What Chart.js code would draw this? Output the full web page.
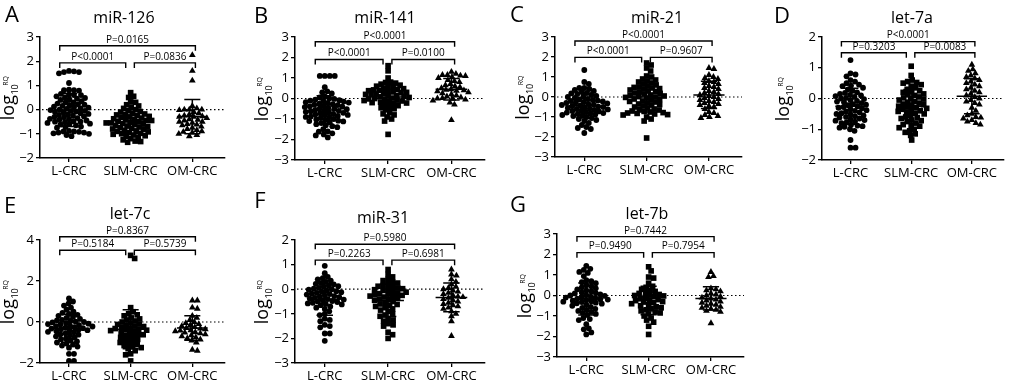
<!DOCTYPE html>
<html>
<head>
<meta charset="utf-8">
<script src="https://cdn.jsdelivr.net/npm/chart.js@4.4.1/dist/chart.umd.min.js"></script>
<style>
  body { margin: 0; background: #fff; }
  #wrap { position: relative; width: 1010px; height: 382px; overflow: hidden; background: #fff; }
  canvas { position: absolute; }
</style>
</head>
<body>
<div id="wrap"></div>
<script>
const categories = ['L-CRC', 'SLM-CRC', 'OM-CRC'];
const titles = ['miR-126', 'miR-141', 'miR-21', 'let-7a', 'let-7c', 'miR-31', 'let-7b'];
const letters = ['A', 'B', 'C', 'D', 'E', 'F', 'G'];
const yMin = [-2, -3, -3, -2, -2, -3, -3];
const yMax = [3, 3, 3, 2, 4, 2, 3];
const yStep = [1, 1, 1, 1, 2, 1, 1];
const pOuter = ['P=0.0165', 'P<0.0001', 'P<0.0001', 'P<0.0001', 'P=0.8367', 'P=0.5980', 'P=0.7442'];
const pLeft = ['P<0.0001', 'P<0.0001', 'P<0.0001', 'P=0.3203', 'P=0.5184', 'P=0.2263', 'P=0.9490'];
const pRight = ['P=0.0836', 'P=0.0100', 'P=0.9607', 'P=0.0083', 'P=0.5739', 'P=0.6981', 'P=0.7954'];
const outerY = [2.64, 2.77, 2.8, 1.85, 4.16, 1.83, 2.87];
const innerY = [1.93, 1.9, 1.98, 1.49, 3.5, 1.18, 2.09];

// miR-126
const miR126_L = [1.6, 1.55, 1.55, 1.5, 1.58, 1.1, 0.82, 0.8, 0.8, 0.78, 0.65, 0.62, 0.6, 0.6, 0.55, 0.5, 0.48, 0.45, 0.42, 0.4, 0.35, 0.3, 0.3, 0.25, 0.22, 0.2, 0.18, 0.15, 0.12, 0.1, 0.08, 0.05, 0.03, 0.0, -0.02, -0.05, -0.05, -0.08, -0.1, -0.12, -0.15, -0.18, -0.2, -0.22, -0.25, -0.28, -0.3, -0.32, -0.35, -0.38, -0.4, -0.42, -0.45, -0.48, -0.5, -0.5, -0.52, -0.55, -0.58, -0.6, -0.62, -0.65, -0.7, -0.72, -0.75, -0.88, -0.9, -0.92, -0.95, -0.95, -1.0, -1.05, -1.1, -0.98, -0.9];
const miR126_SLM = [0.7, 0.55, 0.5, 0.32, 0.3, 0.2, 0.15, 0.1, 0.05, 0.0, -0.05, -0.08, -0.1, -0.15, -0.18, -0.2, -0.22, -0.25, -0.28, -0.3, -0.32, -0.35, -0.38, -0.4, -0.42, -0.45, -0.45, -0.48, -0.5, -0.52, -0.55, -0.55, -0.58, -0.6, -0.62, -0.65, -0.68, -0.7, -0.72, -0.75, -0.78, -0.8, -0.82, -0.85, -0.88, -0.9, -0.92, -0.95, -0.98, -1.0, -1.02, -1.05, -1.08, -1.1, -1.15, -1.2, -1.25, -1.3, -1.32, -1.35];
const miR126_OM = [2.25, 1.6, 1.2, 0.15, 0.05, 0.0, 0.0, -0.02, 0.0, -0.1, -0.15, -0.2, -0.25, -0.28, -0.3, -0.3, -0.35, -0.4, -0.42, -0.45, -0.5, -0.5, -0.55, -0.6, -0.62, -0.65, -0.7, -0.75, -0.8, -0.85, -0.9, -0.92, -0.95, -1.0, -1.05, -1.1];

// miR-141
const miR141_L = [1.1, 1.1, 1.1, 1.1, 0.55, 0.35, 0.3, 0.25, 0.1, 0.05, 0.0, -0.02, -0.05, -0.08, -0.1, -0.12, -0.15, -0.18, -0.2, -0.22, -0.25, -0.28, -0.3, -0.32, -0.35, -0.38, -0.4, -0.42, -0.45, -0.48, -0.5, -0.52, -0.55, -0.58, -0.6, -0.62, -0.65, -0.68, -0.7, -0.72, -0.75, -0.78, -0.8, -0.82, -0.85, -0.88, -0.9, -0.92, -0.95, -1.0, -1.02, -1.05, -1.08, -1.1, -1.12, -1.15, -1.2, -1.25, -1.3, -1.35, -1.4, -1.5, -1.6, -1.62, -1.7, -1.75, -1.8, -1.9];
const miR141_SLM = [1.6, 1.35, 1.0, 0.8, 0.78, 0.75, 0.7, 0.65, 0.6, 0.58, 0.55, 0.5, 0.48, 0.45, 0.42, 0.4, 0.38, 0.35, 0.32, 0.3, 0.28, 0.25, 0.22, 0.2, 0.18, 0.15, 0.12, 0.1, 0.08, 0.05, 0.02, 0.0, -0.02, -0.05, -0.08, -0.1, -0.12, -0.15, -0.18, -0.2, -0.22, -0.25, -0.3, -0.35, -0.4, -0.45, -0.5, -0.55, -0.7, -0.75, -0.8, -0.9, -1.0, -1.1, -1.75];
const miR141_OM = [1.3, 1.2, 1.15, 1.15, 1.12, 1.1, 1.05, 1.0, 0.9, 0.85, 0.8, 0.7, 0.65, 0.6, 0.55, 0.5, 0.45, 0.42, 0.4, 0.38, 0.35, 0.3, 0.25, 0.2, 0.15, 0.1, 0.05, 0.02, 0.0, -0.02, -0.05, -0.1, -0.2, -0.3, -1.05];

// miR-21
const miR21_L = [1.35, 0.75, 0.65, 0.45, 0.45, 0.4, 0.35, 0.3, 0.25, 0.2, 0.18, 0.15, 0.1, 0.05, 0.02, 0.0, -0.05, -0.1, -0.12, -0.15, -0.18, -0.2, -0.22, -0.25, -0.28, -0.3, -0.32, -0.35, -0.38, -0.4, -0.42, -0.45, -0.48, -0.5, -0.52, -0.55, -0.58, -0.6, -0.62, -0.65, -0.68, -0.7, -0.72, -0.75, -0.78, -0.8, -0.82, -0.85, -0.88, -0.9, -0.92, -0.95, -1.0, -1.05, -1.1, -1.15, -1.2, -1.3, -1.4, -1.5, -1.55, -1.6, -1.8];
const miR21_SLM = [1.7, 1.6, 1.45, 1.3, 1.05, 1.0, 0.9, 0.85, 0.8, 0.75, 0.7, 0.65, 0.6, 0.55, 0.5, 0.48, 0.45, 0.42, 0.4, 0.35, 0.3, 0.28, 0.25, 0.2, 0.18, 0.15, 0.1, 0.08, 0.05, 0.02, 0.0, -0.02, -0.05, -0.1, -0.12, -0.15, -0.2, -0.22, -0.25, -0.3, -0.35, -0.38, -0.4, -0.45, -0.5, -0.55, -0.6, -0.62, -0.65, -0.7, -0.72, -0.75, -0.78, -0.8, -0.82, -0.85, -0.88, -0.9, -1.0, -1.1, -1.2, -2.05];
const miR21_OM = [1.45, 1.4, 1.1, 1.0, 0.95, 0.9, 0.8, 0.75, 0.7, 0.65, 0.55, 0.5, 0.45, 0.4, 0.3, 0.25, 0.2, 0.15, 0.1, 0.05, 0.0, -0.05, -0.1, -0.15, -0.2, -0.25, -0.3, -0.35, -0.4, -0.45, -0.5, -0.6, -0.75, -0.8, -0.9, -0.95, -1.0, -1.05];

// let-7a
const let7a_L = [1.25, 0.82, 0.78, 0.72, 0.6, 0.55, 0.5, 0.45, 0.42, 0.4, 0.35, 0.3, 0.25, 0.2, 0.18, 0.15, 0.12, 0.1, 0.08, 0.05, 0.02, 0.0, -0.02, -0.05, -0.08, -0.1, -0.12, -0.15, -0.18, -0.2, -0.22, -0.25, -0.28, -0.3, -0.32, -0.35, -0.38, -0.4, -0.42, -0.45, -0.48, -0.5, -0.52, -0.55, -0.58, -0.6, -0.62, -0.65, -0.68, -0.7, -0.72, -0.75, -0.78, -0.8, -0.85, -0.88, -0.9, -0.92, -0.95, -1.0, -1.05, -1.35, -1.6, -1.6];
const let7a_SLM = [1.05, 0.75, 0.6, 0.55, 0.52, 0.5, 0.45, 0.4, 0.35, 0.3, 0.25, 0.22, 0.2, 0.15, 0.12, 0.1, 0.05, 0.02, 0.0, -0.02, -0.05, -0.1, -0.12, -0.15, -0.18, -0.2, -0.22, -0.25, -0.28, -0.3, -0.32, -0.35, -0.38, -0.4, -0.42, -0.45, -0.48, -0.5, -0.55, -0.6, -0.62, -0.65, -0.7, -0.72, -0.75, -0.8, -0.85, -0.88, -0.9, -0.95, -1.0, -1.05, -1.1, -1.15, -1.2, -1.35];
const let7a_OM = [1.1, 0.95, 0.9, 0.82, 0.75, 0.7, 0.65, 0.6, 0.55, 0.5, 0.45, 0.4, 0.35, 0.3, 0.25, 0.2, 0.15, 0.1, 0.05, 0.0, -0.05, -0.1, -0.15, -0.2, -0.3, -0.4, -0.5, -0.55, -0.6, -0.62, -0.65, -0.7, -0.75, -0.8, -0.85];

// let-7c
const let7c_L = [1.15, 1.0, 0.9, 0.8, 0.7, 0.6, 0.5, 0.45, 0.4, 0.35, 0.3, 0.25, 0.2, 0.15, 0.1, 0.08, 0.05, 0.02, 0.0, -0.02, -0.05, -0.08, -0.1, -0.12, -0.15, -0.18, -0.2, -0.22, -0.25, -0.28, -0.3, -0.32, -0.35, -0.38, -0.4, -0.42, -0.45, -0.48, -0.5, -0.55, -0.6, -0.62, -0.65, -0.7, -0.75, -0.8, -0.85, -0.9, -0.95, -1.0, -1.05, -1.1, -1.15, -1.2, -1.25, -1.55, -1.55, -1.9, -1.9];
const let7c_SLM = [3.25, 3.1, 0.7, 0.5, 0.4, 0.35, 0.3, 0.2, 0.15, 0.1, 0.05, 0.0, -0.05, -0.1, -0.12, -0.15, -0.2, -0.22, -0.25, -0.3, -0.32, -0.35, -0.38, -0.4, -0.42, -0.45, -0.5, -0.55, -0.6, -0.62, -0.65, -0.7, -0.75, -0.8, -0.85, -0.9, -0.95, -1.0, -1.05, -1.1, -1.15, -1.2, -1.25, -1.3, -1.4, -1.55, -1.6, -1.9];
const let7c_OM = [1.05, 1.05, 0.7, 0.65, 0.3, 0.2, 0.1, 0.0, -0.05, -0.1, -0.15, -0.2, -0.25, -0.3, -0.32, -0.35, -0.4, -0.42, -0.45, -0.5, -0.52, -0.55, -0.6, -0.65, -0.7, -0.75, -0.8, -0.85, -0.9, -1.0, -1.35, -1.4];

// miR-31
const miR31_L = [0.95, 0.65, 0.5, 0.45, 0.4, 0.35, 0.3, 0.25, 0.22, 0.2, 0.15, 0.12, 0.1, 0.05, 0.02, 0.0, -0.02, -0.05, -0.08, -0.1, -0.12, -0.15, -0.18, -0.2, -0.22, -0.25, -0.28, -0.3, -0.32, -0.35, -0.38, -0.4, -0.42, -0.45, -0.48, -0.5, -0.52, -0.55, -0.58, -0.6, -0.62, -0.65, -0.7, -0.75, -0.8, -0.9, -1.0, -1.05, -1.2, -1.25, -1.3, -1.45, -1.5, -1.55, -1.8, -1.8, -2.1];
const miR31_SLM = [0.8, 0.6, 0.5, 0.4, 0.35, 0.3, 0.25, 0.2, 0.15, 0.12, 0.1, 0.05, 0.02, 0.0, -0.02, -0.05, -0.1, -0.12, -0.15, -0.18, -0.2, -0.22, -0.25, -0.28, -0.3, -0.32, -0.35, -0.4, -0.42, -0.45, -0.5, -0.55, -0.6, -0.62, -0.65, -0.7, -0.75, -0.8, -0.85, -0.9, -1.0, -1.05, -1.1, -1.2, -1.25, -1.3, -1.4, -1.45, -1.5, -1.75, -1.85, -2.0];
const miR31_OM = [0.8, 0.6, 0.55, 0.4, 0.3, 0.2, 0.1, 0.05, 0.0, -0.05, -0.1, -0.15, -0.2, -0.25, -0.3, -0.32, -0.35, -0.4, -0.45, -0.5, -0.55, -0.6, -0.65, -0.7, -0.75, -0.8, -0.9, -1.0, -1.1, -1.3, -1.9];

// let-7b
const let7b_L = [1.45, 1.3, 1.25, 1.15, 1.1, 0.95, 0.75, 0.7, 0.65, 0.6, 0.5, 0.45, 0.4, 0.35, 0.3, 0.25, 0.2, 0.15, 0.12, 0.1, 0.05, 0.02, 0.0, -0.02, -0.05, -0.08, -0.1, -0.12, -0.15, -0.18, -0.2, -0.22, -0.25, -0.28, -0.3, -0.32, -0.35, -0.38, -0.4, -0.45, -0.5, -0.55, -0.6, -0.65, -0.7, -0.75, -0.8, -0.85, -0.9, -0.95, -1.1, -1.15, -1.2, -1.4, -1.6, -1.65, -1.8, -1.9];
const let7b_SLM = [1.4, 1.2, 0.9, 0.85, 0.6, 0.45, 0.4, 0.3, 0.25, 0.2, 0.15, 0.1, 0.05, 0.02, 0.0, -0.02, -0.05, -0.1, -0.15, -0.2, -0.22, -0.25, -0.3, -0.32, -0.35, -0.4, -0.45, -0.5, -0.55, -0.6, -0.65, -0.7, -0.75, -0.8, -0.85, -0.9, -1.0, -1.1, -1.2, -1.3, -1.5, -1.9];
const let7b_OM = [1.15, 0.95, 0.9, 0.35, 0.3, 0.25, 0.2, 0.1, 0.05, 0.0, -0.05, -0.1, -0.15, -0.2, -0.25, -0.3, -0.35, -0.4, -0.45, -0.5, -0.55, -0.6, -0.65, -0.7, -0.75, -0.8, -1.35];

const groups = [
  [miR126_L, miR126_SLM, miR126_OM],
  [miR141_L, miR141_SLM, miR141_OM],
  [miR21_L, miR21_SLM, miR21_OM],
  [let7a_L, let7a_SLM, let7a_OM],
  [let7c_L, let7c_SLM, let7c_OM],
  [miR31_L, miR31_SLM, miR31_OM],
  [let7b_L, let7b_SLM, let7b_OM]
];

// panel boxes (canvas position and plot area inside it)
const boxes = [
  { x: 0, y: 0, w: 252, h: 190, l: 40, t: 37, r: 225, b: 158, lab: 26, tx: 124, ty: 18, lx: 12, ly: 16 },
  { x: 250, y: 0, w: 255, h: 190, l: 45, t: 37, r: 235, b: 160, lab: 27, tx: 135, ty: 18, lx: 11, ly: 17 },
  { x: 505, y: 0, w: 250, h: 190, l: 50, t: 37, r: 237, b: 157, lab: 26, tx: 152, ty: 18, lx: 12, ly: 16 },
  { x: 755, y: 0, w: 255, h: 190, l: 67, t: 37, r: 249, b: 160, lab: 33, tx: 157, ty: 18, lx: 27, ly: 17 },
  { x: 0, y: 190, w: 252, h: 192, l: 40, t: 50, r: 225, b: 173, lab: 26, tx: 130, ty: 24, lx: 10, ly: 17 },
  { x: 250, y: 190, w: 255, h: 192, l: 45, t: 50, r: 235, b: 173, lab: 27, tx: 133, ty: 28, lx: 10, ly: 12 },
  { x: 505, y: 190, w: 250, h: 192, l: 52, t: 44, r: 239, b: 167, lab: 26, tx: 142, ty: 24, lx: 13, ly: 16 }
];

const FONT = '"Open Sans", "DejaVu Sans", sans-serif';
Chart.defaults.font.family = FONT;
Chart.defaults.color = '#000';

const pointStyles = ['circle', 'rect', 'triangle'];
const pointRadii = [2.9, 4.0, 3.9];
const Y_AXIS_W = 30, X_AXIS_H = 26;

function meanSd(vals) {
  const m = vals.reduce((s, v) => s + v, 0) / vals.length;
  const sd = Math.sqrt(vals.reduce((s, v) => s + (v - m) * (v - m), 0) / (vals.length - 1));
  return [m, sd];
}

// simple beeswarm: spread points sideways so they don't overlap too much
function swarm(vals, cat, chart, diam) {
  const xs = chart.scales.x, ys = chart.scales.y;
  const unit = xs.getPixelForValue(2) - xs.getPixelForValue(1);
  const pts = vals.map(v => ({ v, py: ys.getPixelForValue(v), dx: 0 }));
  pts.sort((a, b) => a.py - b.py);
  const placed = [];
  pts.forEach(p => {
    for (let k = 0; k < 400; k++) {
      const off = k === 0 ? 0 : (k % 2 ? 1 : -1) * Math.ceil(k / 2) * 0.5;
      let ok = true;
      for (const q of placed) {
        const ddx = q.dx - off, ddy = q.py - p.py;
        if (ddx * ddx + ddy * ddy < diam * diam) { ok = false; break; }
      }
      if (ok) { p.dx = off; break; }
    }
    placed.push(p);
  });
  return pts.map(p => ({ x: cat + p.dx / unit, y: p.v }));
}

const panelPlugin = {
  id: 'panel',
  beforeDatasetsDraw(chart, args, opts) {
    const { ctx, chartArea: a } = chart;
    const py = chart.scales.y.getPixelForValue(0);
    ctx.save();
    ctx.strokeStyle = '#000';
    ctx.lineWidth = 1.2;
    ctx.setLineDash([1.5, 2.5]);
    ctx.beginPath();
    ctx.moveTo(a.left + 2, py);
    ctx.lineTo(a.right, py);
    ctx.stroke();
    ctx.restore();
  },
  afterDatasetsDraw(chart, args, opts) {
    const i = opts.index;
    const { ctx } = chart;
    const xs = chart.scales.x, ys = chart.scales.y;
    ctx.save();
    ctx.strokeStyle = '#000';
    ctx.lineWidth = 1.5;
    // mean and SD bars
    groups[i].forEach((vals, g) => {
      const [m, sd] = meanSd(vals);
      const c = g + 1;
      ctx.beginPath();
      ctx.moveTo(xs.getPixelForValue(c - 0.25), ys.getPixelForValue(m));
      ctx.lineTo(xs.getPixelForValue(c + 0.25), ys.getPixelForValue(m));
      ctx.moveTo(xs.getPixelForValue(c - 0.13), ys.getPixelForValue(m + sd));
      ctx.lineTo(xs.getPixelForValue(c + 0.13), ys.getPixelForValue(m + sd));
      ctx.moveTo(xs.getPixelForValue(c - 0.13), ys.getPixelForValue(m - sd));
      ctx.lineTo(xs.getPixelForValue(c + 0.13), ys.getPixelForValue(m - sd));
      ctx.moveTo(xs.getPixelForValue(c), ys.getPixelForValue(m + sd));
      ctx.lineTo(xs.getPixelForValue(c), ys.getPixelForValue(m - sd));
      ctx.stroke();
    });
    // significance brackets
    ctx.lineWidth = 1.4;
    ctx.font = '10px ' + FONT;
    ctx.textAlign = 'center';
    ctx.textBaseline = 'bottom';
    ctx.fillStyle = '#000';
    const bracket = (x1, x2, yv, text) => {
      const p1 = xs.getPixelForValue(x1), p2 = xs.getPixelForValue(x2), py = ys.getPixelForValue(yv);
      ctx.beginPath();
      ctx.moveTo(p1, py + 5);
      ctx.lineTo(p1, py);
      ctx.lineTo(p2, py);
      ctx.lineTo(p2, py + 5);
      ctx.stroke();
      ctx.fillText(text, (p1 + p2) / 2, py - 1);
    };
    bracket(0.85, 3.05, outerY[i], pOuter[i]);
    bracket(0.85, 1.92, innerY[i], pLeft[i]);
    bracket(2.06, 3.05, innerY[i], pRight[i]);
    ctx.restore();
  },
  afterDraw(chart, args, opts) {
    const i = opts.index, bx = boxes[i];
    const { ctx, chartArea: a } = chart;
    ctx.save();
    ctx.fillStyle = '#000';
    ctx.textBaseline = 'middle';
    ctx.textAlign = 'center';
    ctx.font = '16px ' + FONT;
    ctx.fillText(titles[i], bx.tx, bx.ty);
    ctx.font = '22px ' + FONT;
    ctx.fillText(letters[i], bx.lx, bx.ly);
    // y axis label: log10 RQ
    ctx.translate(a.left - bx.lab, (a.top + a.bottom) / 2 + 2);
    ctx.rotate(-Math.PI / 2);
    ctx.textAlign = 'left';
    ctx.textBaseline = 'alphabetic';
    ctx.font = '18px ' + FONT;
    const w1 = ctx.measureText('log').width;
    ctx.font = '9px ' + FONT;
    const w2 = ctx.measureText('10').width;
    const x0 = -(w1 + w2 + 6) / 2;
    ctx.font = '18px ' + FONT;
    ctx.fillText('log', x0, 0);
    ctx.font = '9px ' + FONT;
    ctx.fillText('10', x0 + w1 + 0.5, 4);
    ctx.font = '7px ' + FONT;
    ctx.fillText('RQ', x0 + w1 + w2 - 1, -6);
    ctx.restore();
  }
};

const wrap = document.getElementById('wrap');
boxes.forEach((bx, i) => {
  const cv = document.createElement('canvas');
  cv.width = bx.w;
  cv.height = bx.h;
  cv.style.left = bx.x + 'px';
  cv.style.top = bx.y + 'px';
  cv.style.width = bx.w + 'px';
  cv.style.height = bx.h + 'px';
  wrap.appendChild(cv);

  const chart = new Chart(cv, {
    type: 'scatter',
    data: {
      datasets: groups[i].map((vals, g) => ({
        label: categories[g],
        data: vals.map(v => ({ x: g + 1, y: v })),
        pointStyle: pointStyles[g],
        pointRadius: pointRadii[g],
        backgroundColor: '#000',
        borderColor: '#000',
        borderWidth: 0
      }))
    },
    options: {
      responsive: false,
      animation: false,
      events: [],
      layout: {
        padding: { left: bx.l - Y_AXIS_W, top: bx.t, right: bx.w - bx.r, bottom: bx.h - bx.b - X_AXIS_H }
      },
      plugins: {
        legend: { display: false },
        tooltip: { enabled: false },
        panel: { index: i }
      },
      scales: {
        x: {
          type: 'linear',
          min: 0.53,
          max: 3.53,
          afterBuildTicks: s => { s.ticks = [1, 2, 3].map(v => ({ value: v })); },
          afterFit: s => { s.height = X_AXIS_H; },
          ticks: {
            callback: v => categories[v - 1],
            font: { size: 13 },
            color: '#000',
            padding: 1,
            maxRotation: 0,
            autoSkip: false
          },
          grid: { drawOnChartArea: false, tickLength: 4, color: '#000', lineWidth: 1.3 },
          border: { color: '#000', width: 1.5 }
        },
        y: {
          min: yMin[i],
          max: yMax[i],
          afterFit: s => { s.width = Y_AXIS_W; },
          ticks: {
            stepSize: yStep[i],
            callback: v => String(v).replace('-', '\u2212'),
            font: { size: 13 },
            color: '#000',
            padding: 2
          },
          grid: { drawOnChartArea: false, tickLength: 4, color: '#000', lineWidth: 1.3 },
          border: { color: '#000', width: 1.5 }
        }
      }
    },
    plugins: [panelPlugin]
  });

  chart.data.datasets.forEach((ds, g) => {
    ds.data = swarm(groups[i][g], g + 1, chart, 4.7);
  });
  chart.update('none');
});
</script>
</body>
</html>
